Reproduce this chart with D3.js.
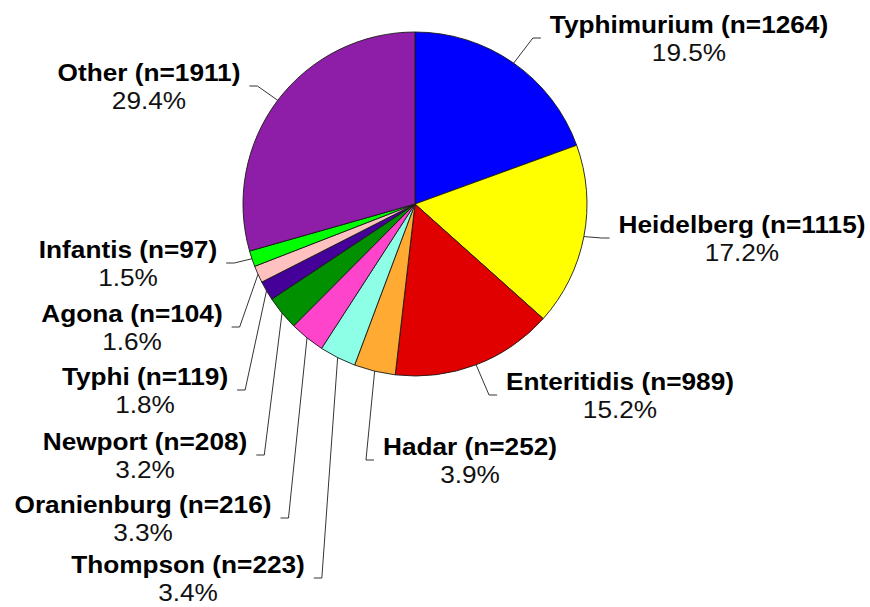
<!DOCTYPE html>
<html>
<head>
<meta charset="utf-8">
<script src="https://cdn.jsdelivr.net/npm/d3@7"></script>
<style>
  body { margin: 0; background: #fff; }
  svg { display: block; }
</style>
</head>
<body>
<div id="chart"></div>
<script>
const serotypes = ["Typhimurium", "Heidelberg", "Enteritidis", "Hadar", "Thompson", "Oranienburg", "Newport", "Typhi", "Agona", "Infantis", "Other"];
const counts = [1264, 1115, 989, 252, 223, 216, 208, 119, 104, 97, 1911];
const colors = ["#0000ff", "#ffff00", "#e00000", "#ffaa33", "#8cffe6", "#ff44cc", "#009000", "#440099", "#ffc0c0", "#00ff00", "#8e1ea8"];
// hand placed label anchors (centre x, baseline y), like the original chart
const labelX = [689, 742, 620, 470, 188, 143, 145, 145, 132, 128, 149];
const labelY = [33, 233, 390, 455, 573, 513, 450, 385, 322, 258, 81];

const width = 870, height = 607;
const cx = 415, cy = 204, radius = 172;
const fontSize = 24.5, stretch = 1.07, lineGap = 28.3;

const data = serotypes.map((name, i) => ({ name, count: counts[i], color: colors[i], lx: labelX[i], ly: labelY[i] }));
const total = d3.sum(counts);

const svg = d3.select("#chart")
  .append("svg")
  .attr("width", width)
  .attr("height", height);

const pie = d3.pie().sort(null).value(d => d.count);
const arc = d3.arc().innerRadius(0).outerRadius(radius);
const arcs = pie(data);

const g = svg.append("g").attr("transform", `translate(${cx},${cy})`);

g.selectAll("path")
  .data(arcs)
  .enter()
  .append("path")
  .attr("d", arc)
  .attr("fill", d => d.data.color)
  .attr("stroke", "#1a1a1a")
  .attr("stroke-width", 0.9)
  .attr("stroke-linejoin", "round");

// labels
const labels = svg.append("g")
  .style("font-family", "Arial, 'Liberation Sans', Helvetica, sans-serif")
  .style("font-size", fontSize + "px");

arcs.forEach(a => {
  const d = a.data;
  const lab = labels.append("g")
    .attr("transform", `translate(${d.lx},${d.ly}) scale(${stretch},1)`);

  const title = lab.append("text")
    .attr("text-anchor", "middle")
    .attr("font-weight", "bold")
    .attr("fill", "#000")
    .text(`${d.name} (n=${d.count})`);

  lab.append("text")
    .attr("y", lineGap)
    .attr("text-anchor", "middle")
    .attr("fill", "#111")
    .text((d.count / total * 100).toFixed(1) + "%");

  // leader line: from slice edge to a short horizontal tick beside the label
  const mid = (a.startAngle + a.endAngle) / 2;
  const sx = cx + radius * Math.sin(mid);
  const sy = cy - radius * Math.cos(mid);
  const halfW = title.node().getComputedTextLength() * stretch / 2;
  const ty = d.ly + 5;
  const onLeft = d.lx < cx;
  const endX = onLeft ? d.lx + halfW + 9 : d.lx - halfW - 9;
  const elbowX = onLeft ? endX + 8 : endX - 8;

  svg.append("path")
    .attr("d", `M${sx},${sy}L${elbowX},${ty}L${endX},${ty}`)
    .attr("fill", "none")
    .attr("stroke", "#000")
    .attr("stroke-width", 0.8);
});
</script>
</body>
</html>
